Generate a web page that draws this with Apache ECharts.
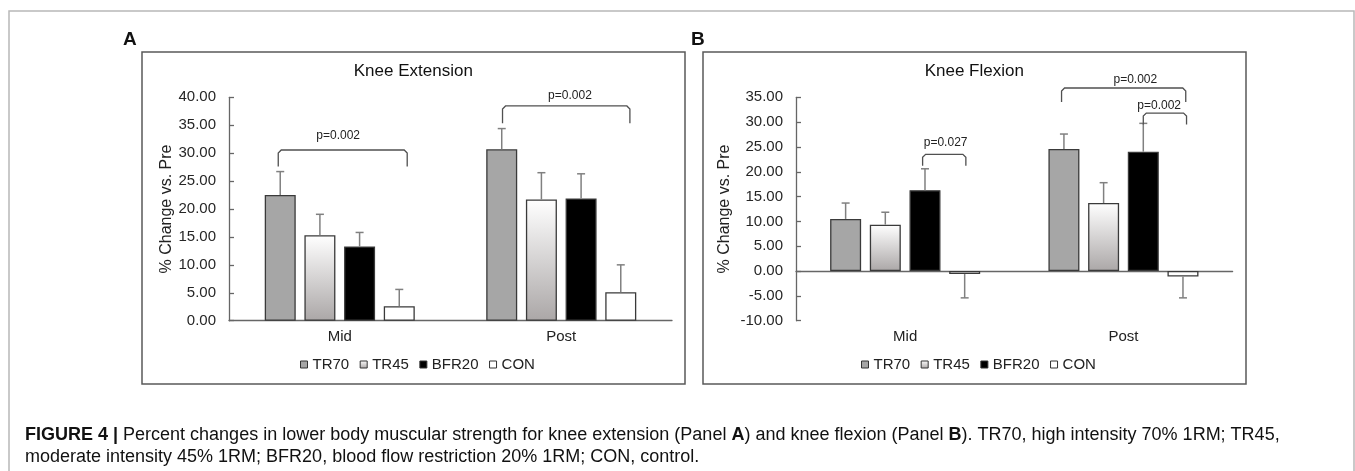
<!DOCTYPE html>
<html>
<head>
<meta charset="utf-8">
<title>Figure 4</title>
<script src="https://cdn.jsdelivr.net/npm/echarts@6/dist/echarts.min.js"></script>
<style>
  html, body { margin: 0; padding: 0; background: #fff; }
  #chart { width: 1355px; height: 471px; }
</style>
</head>
<body>
<div id="chart"></div>
<script>
// categories / groups
const categories = ['Mid', 'Post'];
const groups = ['TR70', 'TR45', 'BFR20', 'CON'];

// Panel A - knee extension (% change vs. pre), mean and error bar
const extMid = [22.5, 15.3, 13.3, 2.6];
const extPost = [30.7, 21.7, 21.9, 5.1];
const extMidErr = [4.2, 3.75, 2.5, 3.0];
const extPostErr = [3.7, 4.8, 4.4, 4.9];

// Panel B - knee flexion
const flxMid = [10.5, 9.35, 16.3, -0.6];
const flxPost = [24.6, 13.7, 24.05, -1.1];
const flxMidErr = [3.2, 2.5, 4.3, 4.8];
const flxPostErr = [3.0, 4.1, 5.7, 4.3];

// y axis ticks: min, max, step
const extTicks = [0, 40, 5];
const flxTicks = [-10, 35, 5];

// brackets: category, from bar, to bar, top, leg end, label bar pos, label y, text
const extBrackets = [
  [0, -0.05, 3.2, 30.56, 27.6, 1.46, 33.07, 'p=0.002'],
  [1, 0.02, 3.23, 38.45, 35.35, 1.72, 40.3, 'p=0.002']
];
const flxBrackets = [
  [0, 1.94, 3.03, 23.5, 21.2, 2.52, 25.8, 'p=0.027'],
  [1, -0.06, 3.07, 36.87, 34.05, 1.8, 38.6, 'p=0.002'],
  [1, 2.0, 3.09, 31.83, 29.5, 2.4, 33.4, 'p=0.002']
];

const FONT = 'Liberation Sans, Arial, sans-serif';
const BAR_W = 31;
const BAR_GAP = 0.28;
const PITCH = BAR_W * (1 + BAR_GAP);
const axisColor = '#666';

const barColors = [
  '#a6a6a6',
  { type: 'linear', x: 0, y: 0, x2: 0, y2: 1,
    colorStops: [{ offset: 0, color: '#ffffff' }, { offset: 1, color: '#aba7a7' }] },
  '#000000',
  '#ffffff'
];

const barSeries = (mid, post, axis) =>
  groups.map((g, i) => ({
    name: g,
    type: 'bar',
    xAxisIndex: axis,
    yAxisIndex: axis,
    barWidth: BAR_W,
    barGap: BAR_GAP * 100 + '%',
    itemStyle: { color: barColors[i], borderColor: '#3a3a3a', borderWidth: 1.3 },
    data: [mid[i], post[i]],
  }));

const errorSeries = (mid, post, midErr, postErr, axis) => {
  const data = [];
  [mid, post].forEach((vals, c) => {
    const errs = c === 0 ? midErr : postErr;
    vals.forEach((v, i) => data.push([c, v, v >= 0 ? v + errs[i] : v - errs[i], i]));
  });
  return {
    type: 'custom',
    xAxisIndex: axis,
    yAxisIndex: axis,
    z: 3,
    silent: true,
    clip: false,
    renderItem(params, api) {
      const base = api.coord([api.value(0), api.value(1)]);
      const end = api.coord([api.value(0), api.value(2)]);
      const x = base[0] + (api.value(3) - 1.5) * PITCH;
      const st = { stroke: '#808080', lineWidth: 1.5 };
      return {
        type: 'group',
        children: [
          { type: 'line', shape: { x1: x, y1: base[1], x2: x, y2: end[1] }, style: st },
          { type: 'line', shape: { x1: x - 4, y1: end[1], x2: x + 4, y2: end[1] }, style: st },
        ],
      };
    },
    data,
  };
};

const bracketSeries = (list, axis) => ({
  type: 'custom',
  xAxisIndex: axis,
  yAxisIndex: axis,
  z: 4,
  silent: true,
  clip: false,
  renderItem(params, api) {
    const b = list[params.dataIndex];
    const c = api.coord([b[0], b[3]]);
    const leg = api.coord([b[0], b[4]])[1];
    const lab = api.coord([b[0], b[6]])[1];
    const x1 = c[0] + (b[1] - 1.5) * PITCH;
    const x2 = c[0] + (b[2] - 1.5) * PITCH;
    const y = c[1];
    const r = 3;
    return {
      type: 'group',
      children: [
        {
          type: 'polyline',
          shape: { points: [[x1, leg], [x1, y + r], [x1 + r, y], [x2 - r, y], [x2, y + r], [x2, leg]] },
          style: { fill: 'none', stroke: '#505050', lineWidth: 1.3 },
        },
        {
          type: 'text',
          x: c[0] + (b[5] - 1.5) * PITCH,
          y: lab,
          style: { text: b[7], fill: '#222', font: '12px ' + FONT, align: 'center', verticalAlign: 'middle' },
        },
      ],
    };
  },
  data: list.map((b) => [b[0], b[3]]),
});

const yAxis = (grid, ticks, gap) => ({
  type: 'value',
  gridIndex: grid,
  min: ticks[0],
  max: ticks[1],
  interval: ticks[2],
  name: '% Change vs. Pre',
  nameLocation: 'middle',
  nameRotate: 90,
  nameGap: gap,
  nameTextStyle: { fontSize: 16, color: '#222' },
  axisLine: { show: true, lineStyle: { color: axisColor, width: 1.3 } },
  axisTick: { show: true, inside: true, length: 5, lineStyle: { color: axisColor, width: 1.3 } },
  axisLabel: { fontSize: 15, color: '#262626', margin: 13, formatter: (v) => v.toFixed(2) },
  splitLine: { show: false },
});

const legend = (left) => ({
  data: groups,
  left: left,
  top: 357,
  padding: 0,
  icon: 'rect',
  itemWidth: 7,
  itemHeight: 7,
  itemGap: 10.5,
  selectedMode: false,
  itemStyle: { borderColor: '#333', borderWidth: 1 },
  textStyle: { fontSize: 15, color: '#222' },
});

const text = (x, y, str, font, align) => ({
  type: 'text',
  x: x,
  y: y,
  silent: true,
  style: {
    text: str,
    font: font,
    fill: '#111',
    align: align || 'left',
    verticalAlign: 'middle',
    rich: { b: { fontWeight: 'bold', fontSize: 18, fontFamily: FONT, fill: '#111' } },
  },
});

const myChart = echarts.init(document.getElementById('chart'));
myChart.setOption({
  animation: false,
  textStyle: { fontFamily: FONT },
  grid: [
    { left: 229, top: 97.3, width: 443, height: 223.4, outerBoundsMode: 'none' },
    { left: 796, top: 97.3, width: 436.6, height: 223.4, outerBoundsMode: 'none' },
  ],
  xAxis: [
    {
      type: 'category',
      gridIndex: 0,
      data: categories,
      axisLine: { lineStyle: { color: axisColor, width: 1.3 } },
      axisTick: { inside: true, length: 5, lineStyle: { color: axisColor, width: 1.3 } },
      axisLabel: { fontSize: 15, color: '#222', margin: 9 },
    },
    {
      type: 'category',
      gridIndex: 1,
      data: categories,
      axisLine: { onZero: true, lineStyle: { color: axisColor, width: 1.3 } },
      axisTick: { inside: true, length: 5, lineStyle: { color: axisColor, width: 1.3 } },
      axisLabel: { show: false },
    },
    {
      // labels of panel B stay at the bottom
      type: 'category',
      gridIndex: 1,
      position: 'bottom',
      data: categories,
      axisLine: { show: false, onZero: false },
      axisTick: { show: false },
      axisLabel: { fontSize: 15, color: '#222', margin: 9 },
    },
  ],
  yAxis: [yAxis(0, extTicks, 54), yAxis(1, flxTicks, 63)],
  legend: [legend(300), legend(861)],
  series: [
    ...barSeries(extMid, extPost, 0),
    errorSeries(extMid, extPost, extMidErr, extPostErr, 0),
    bracketSeries(extBrackets, 0),
    ...barSeries(flxMid, flxPost, 1),
    errorSeries(flxMid, flxPost, flxMidErr, flxPostErr, 1),
    bracketSeries(flxBrackets, 1),
  ],
  graphic: [
    { type: 'rect', silent: true, shape: { x: 9, y: 11, width: 1345, height: 500 },
      style: { fill: 'none', stroke: '#b8b8b8', lineWidth: 1.5 } },
    { type: 'rect', silent: true, shape: { x: 142, y: 52, width: 543, height: 332 },
      style: { fill: 'none', stroke: '#595959', lineWidth: 1.5 } },
    { type: 'rect', silent: true, shape: { x: 703, y: 52, width: 543, height: 332 },
      style: { fill: 'none', stroke: '#595959', lineWidth: 1.5 } },
    text(123, 40, 'A', 'bold 19px ' + FONT),
    text(691, 40, 'B', 'bold 19px ' + FONT),
    text(413.3, 71.7, 'Knee Extension', '17px ' + FONT, 'center'),
    text(974.3, 71.7, 'Knee Flexion', '17px ' + FONT, 'center'),
    text(25, 435,
      '{b|FIGURE 4} {b||} Percent changes in lower body muscular strength for knee extension (Panel {b|A}) and knee flexion (Panel {b|B}). TR70, high intensity 70% 1RM; TR45,',
      '18px ' + FONT),
    text(25, 457,
      'moderate intensity 45% 1RM; BFR20, blood flow restriction 20% 1RM; CON, control.',
      '18px ' + FONT),
  ],
});
</script>
</body>
</html>
